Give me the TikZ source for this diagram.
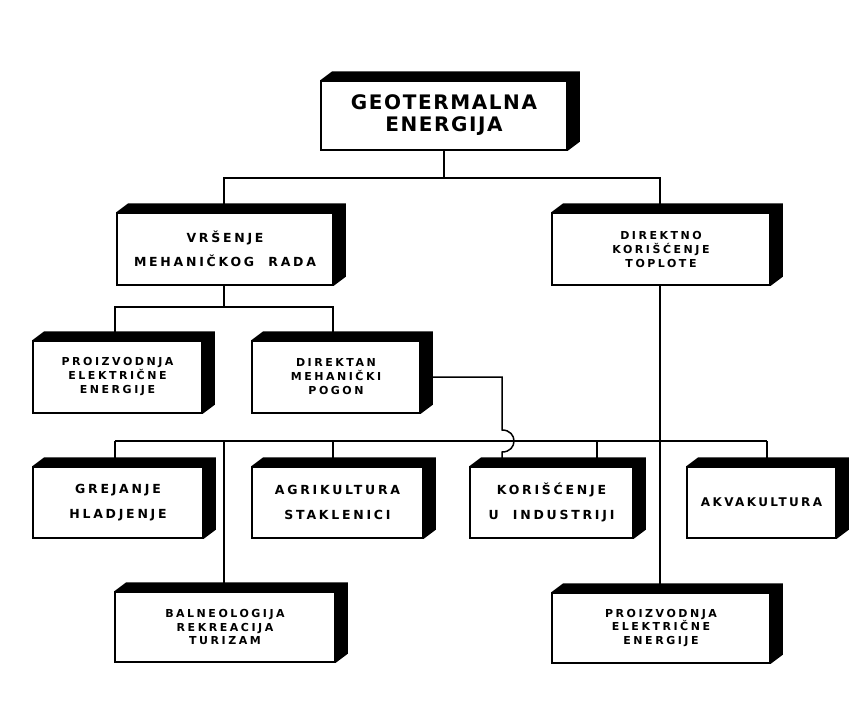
\documentclass[tikz,border=0pt]{standalone}
\usepackage{fontspec}
\setmainfont{DejaVu Sans}
\newfontfamily\gboxfont{DejaVu Sans Bold}[LetterSpace=22]
\newfontfamily\gsmallfont{DejaVu Sans Bold}[LetterSpace=23]
\newfontfamily\gakvfont{DejaVu Sans Bold}[LetterSpace=20]
\newfontfamily\gtitlefont{DejaVu Sans Bold}[LetterSpace=8]
\newcommand\dxx{12}
\newcommand\dyy{9}
\newcommand\extr[1]{\fill (#1.north west) -- ++(\dxx,-\dyy) -- ([shift={(\dxx,-\dyy)}]#1.north east) -- ([shift={(\dxx,-\dyy)}]#1.south east) -- (#1.south east) -- (#1.north east) -- cycle;}
\tikzset{
  gbox/.style={draw, line width=1.5pt, fill=white, inner sep=0pt, align=center,
    font=\gsmallfont\fontsize{11}{14}\selectfont},
  wide/.style={font=\gboxfont\fontsize{12.5}{24.5}\selectfont},
  tight/.style={font=\gsmallfont\fontsize{11}{13.5}\selectfont},
  conn/.style={line width=1.5pt}
}
\begin{document}
\begin{tikzpicture}[x=1pt,y=-1pt]
\useasboundingbox (0,0) rectangle (858,716);
% boxes
\node[gbox, font=\gtitlefont\fontsize{20}{22}\selectfont, minimum width=246, minimum height=69] (geo) at (444,115.5) {GEOTERMALNA\\ENERGIJA};
\node[gbox, wide, minimum width=216, minimum height=72] (vrs) at (225,249) {VRŠENJE\\MEHANIČKOG\ \ RADA};
\node[gbox, minimum width=218, minimum height=72] (dir) at (661,249) {DIREKTNO\\KORIŠĆENJE\\TOPLOTE};
\node[gbox, minimum width=169, minimum height=72] (pe1) at (117.5,377) {PROIZVODNJA\\ELEKTRIČNE\\ENERGIJE};
\node[gbox, minimum width=168, minimum height=72] (dmp) at (336,377) {DIREKTAN\\MEHANIČKI\\POGON};
\node[gbox, wide, minimum width=170, minimum height=71] (grj) at (118,502.5) {GREJANJE\\HLADJENJE};
\node[gbox, wide, minimum width=171, minimum height=71] (agr) at (337.5,502.5) {AGRIKULTURA\\STAKLENICI};
\node[gbox, wide, minimum width=163, minimum height=71] (kor) at (551.5,502.5) {KORIŠĆENJE\\U\ \ INDUSTRIJI};
\node[gbox, font=\gakvfont\fontsize{12}{14}\selectfont, minimum width=149, minimum height=71] (akv) at (761.5,502.5) {AKVAKULTURA};
\node[gbox, tight, minimum width=220, minimum height=70] (bal) at (225,627) {BALNEOLOGIJA\\REKREACIJA\\TURIZAM};
\node[gbox, tight, minimum width=218, minimum height=70] (pe2) at (661,628) {PROIZVODNJA\\ELEKTRIČNE\\ENERGIJE};
\foreach \n in {geo,vrs,dir,pe1,dmp,grj,agr,kor,akv,bal,pe2} {\extr{\n}}
% bus coordinates
\coordinate (t1) at (224,178);
\coordinate (t2) at (660,178);
\coordinate (m1) at (115,307);
\coordinate (m2) at (333,307);
\coordinate (b1) at (115,441);
\coordinate (b2) at (224,441);
\coordinate (b3) at (333,441);
\coordinate (b4) at (597,441);
\coordinate (b5) at (767,441);
\coordinate (j1) at (502,377);
\coordinate (j2) at (502,430);
\coordinate (j3) at (502,452);
% level 1
\draw[conn] (geo.south) -- (geo.south |- t1);
\draw[conn] (vrs.north -| t1) -- (t1) -- (t2) -- (dir.north -| t2);
% level 2
\draw[conn] (vrs.south -| t1) -- (t1 |- m1);
\draw[conn] (pe1.north -| m1) -- (m1) -- (m2) -- (dmp.north -| m2);
% direct heat trunk
\draw[conn] (dir.south -| t2) -- (pe2.north -| t2);
% bus
\draw[conn] (b1) -- (b5);
\draw[conn] (b1) -- (grj.north -| b1);
\draw[conn] (b2) -- (bal.north -| b2);
\draw[conn] (b3) -- (agr.north -| b3);
\draw[conn] (b4) -- (kor.north -| b4);
\draw[conn] (b5) -- (akv.north -| b5);
% mechanical drive to industry with jump
\draw[conn] (dmp.east |- j1) -- (j1) -- (j2) .. controls (518,430) and (518,452) .. (j3) -- (kor.north -| j3);
\end{tikzpicture}
\end{document}
